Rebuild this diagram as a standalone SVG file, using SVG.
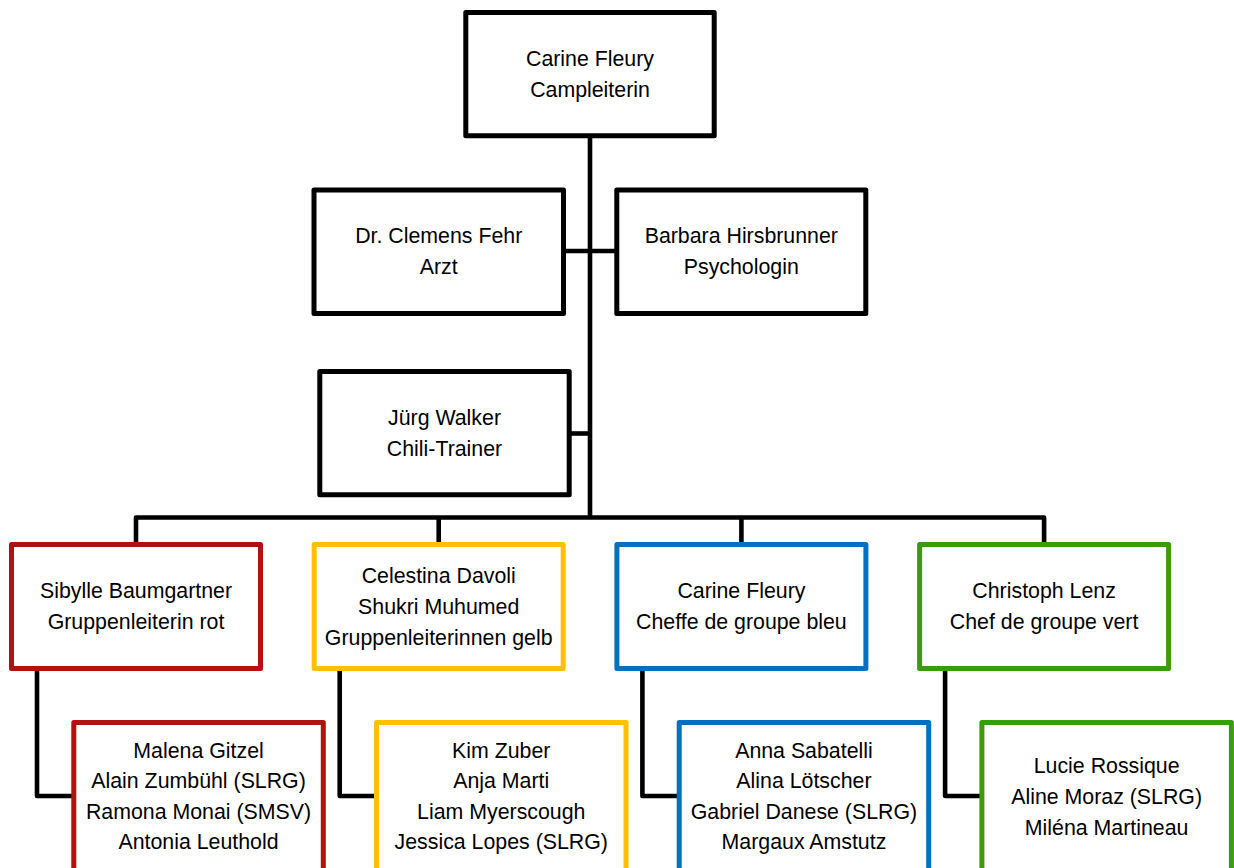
<svg xmlns="http://www.w3.org/2000/svg" width="1234" height="868" viewBox="0 0 1234 868">
<style>
.box{fill:#fff;stroke-width:5;stroke-linejoin:round}
.k{stroke:#000}
.r{stroke:#B0120F}
.y{stroke:#FFC000}
.b{stroke:#0070C0}
.g{stroke:#3A9C08}
.ln{fill:none;stroke:#000;stroke-width:4.6;stroke-linejoin:round}
text{font-family:"Liberation Sans",Arial,sans-serif;font-size:21.33px;fill:#000;text-anchor:middle}
</style>
<rect width="1234" height="868" fill="#fff"/>
<g id="connectors">
<path class="ln" d="M590,136 V517.5"/>
<path class="ln" d="M563.5,251 H616.8"/>
<path class="ln" d="M569.2,433.5 H590"/>
<path class="ln" d="M136,544.5 V517.5 H1044.1 V544.5"/>
<path class="ln" d="M438.7,517.5 V544.5"/>
<path class="ln" d="M741.4,517.5 V544.5"/>
<path class="ln" d="M37,668.5 V796 H74"/>
<path class="ln" d="M339.7,668.5 V796 H376.7"/>
<path class="ln" d="M642.4,668.5 V796 H679.4"/>
<path class="ln" d="M945.1,668.5 V796 H982.1"/>
</g>
<g id="campleiterin">
<rect class="box k" x="465.8" y="12.5" width="248.4" height="123.3"/>
<text x="590" y="65.5">Carine Fleury</text>
<text x="590" y="96.8">Campleiterin</text>
</g>
<g id="arzt">
<rect class="box k" x="314" y="190" width="249.5" height="123.5"/>
<text x="438.7" y="243">Dr. Clemens Fehr</text>
<text x="438.7" y="274.3">Arzt</text>
</g>
<g id="psychologin">
<rect class="box k" x="616.8" y="190" width="249" height="123.5"/>
<text x="741.3" y="243">Barbara Hirsbrunner</text>
<text x="741.3" y="274.3">Psychologin</text>
</g>
<g id="chili-trainer">
<rect class="box k" x="319.8" y="371.5" width="249.4" height="123.3"/>
<text x="444.5" y="424.8">Jürg Walker</text>
<text x="444.5" y="456">Chili-Trainer</text>
</g>
<g id="gruppe-rot">
<rect class="box r" x="11.5" y="544.5" width="249" height="124"/>
<text x="136" y="598">Sibylle Baumgartner</text>
<text x="136" y="629.3">Gruppenleiterin rot</text>
</g>
<g id="gruppe-gelb">
<rect class="box y" x="314.2" y="544.5" width="249" height="124"/>
<text x="438.7" y="583">Celestina Davoli</text>
<text x="438.7" y="614">Shukri Muhumed</text>
<text x="438.7" y="645">Gruppenleiterinnen gelb</text>
</g>
<g id="groupe-bleu">
<rect class="box b" x="616.9" y="544.5" width="249" height="124"/>
<text x="741.4" y="598">Carine Fleury</text>
<text x="741.4" y="629.3">Cheffe de groupe bleu</text>
</g>
<g id="groupe-vert">
<rect class="box g" x="919.6" y="544.5" width="249" height="124"/>
<text x="1044.1" y="598">Christoph Lenz</text>
<text x="1044.1" y="629.3">Chef de groupe vert</text>
</g>
<g id="team-rot">
<rect class="box r" x="73.8" y="722.5" width="249.5" height="152"/>
<text x="198.55" y="757.7">Malena Gitzel</text>
<text x="198.55" y="788.2">Alain Zumbühl (SLRG)</text>
<text x="198.55" y="818.6">Ramona Monai (SMSV)</text>
<text x="198.55" y="849">Antonia Leuthold</text>
</g>
<g id="team-gelb">
<rect class="box y" x="376.5" y="722.5" width="249.5" height="152"/>
<text x="501.25" y="757.7">Kim Zuber</text>
<text x="501.25" y="788.2">Anja Marti</text>
<text x="501.25" y="818.6">Liam Myerscough</text>
<text x="501.25" y="849">Jessica Lopes (SLRG)</text>
</g>
<g id="team-bleu">
<rect class="box b" x="679.2" y="722.5" width="249.5" height="152"/>
<text x="803.95" y="757.7">Anna Sabatelli</text>
<text x="803.95" y="788.2">Alina Lötscher</text>
<text x="803.95" y="818.6">Gabriel Danese (SLRG)</text>
<text x="803.95" y="849">Margaux Amstutz</text>
</g>
<g id="team-vert">
<rect class="box g" x="981.9" y="722.5" width="249.5" height="152"/>
<text x="1106.65" y="773.3">Lucie Rossique</text>
<text x="1106.65" y="804">Aline Moraz (SLRG)</text>
<text x="1106.65" y="834.5">Miléna Martineau</text>
</g>
</svg>
